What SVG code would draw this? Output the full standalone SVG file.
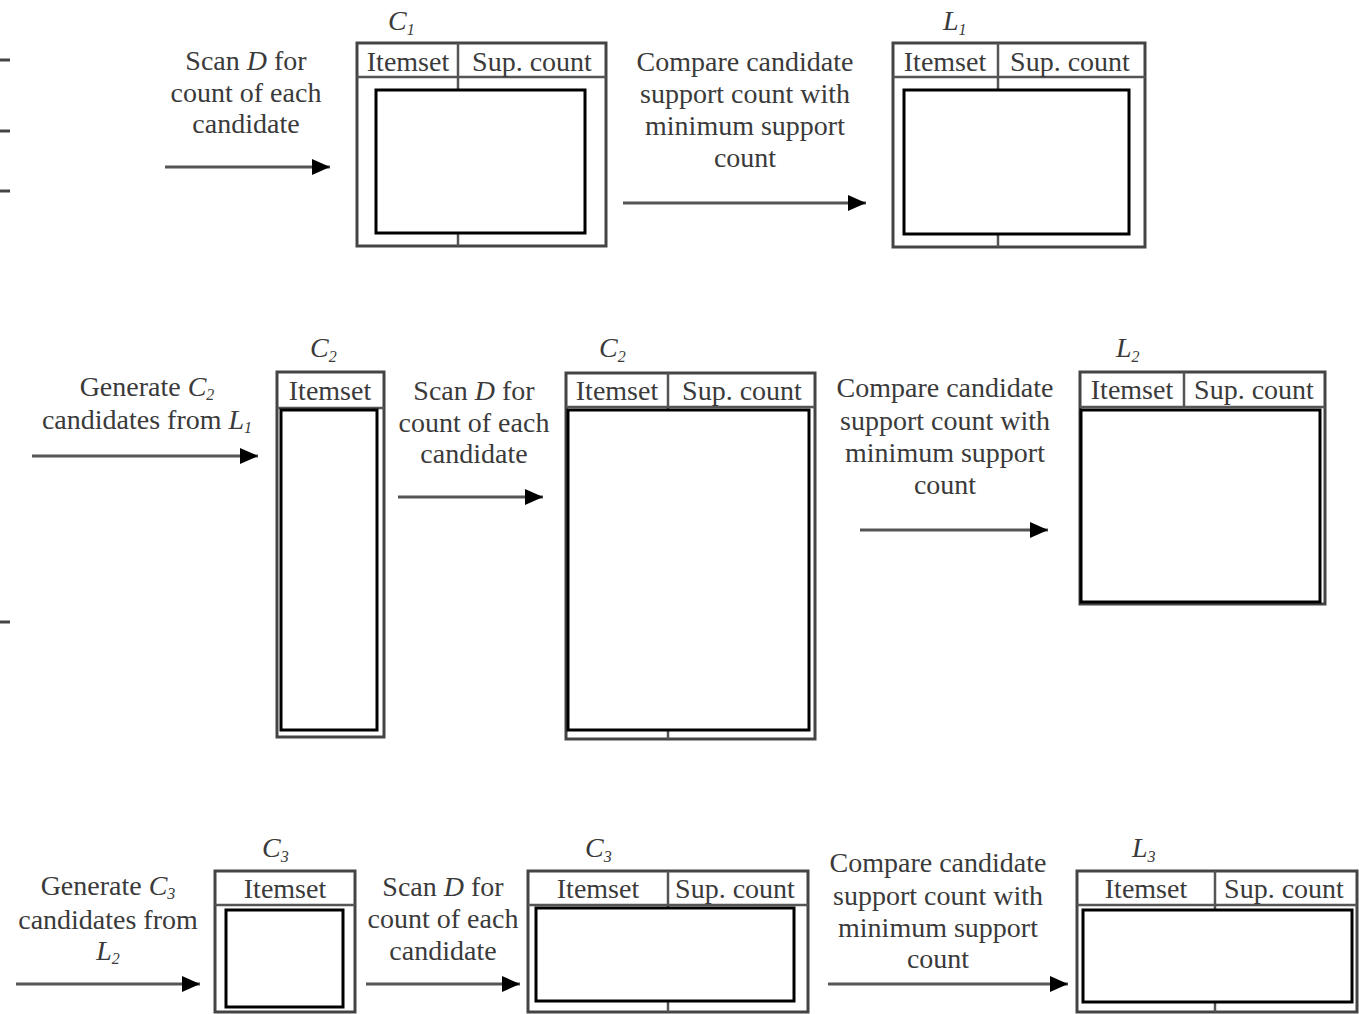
<svg xmlns="http://www.w3.org/2000/svg" width="1359" height="1014" viewBox="0 0 1359 1014">
<style>
.t{font-family:"Liberation Serif","Times New Roman",serif;font-size:28px;fill:#3a3a3a;text-anchor:middle}
.lab{font-family:"Liberation Serif","Times New Roman",serif;font-size:28px;font-style:italic;fill:#3a3a3a}
.it{font-style:italic}
.sub{font-size:16px;font-style:italic}
.frame{fill:#fff;stroke:#444;stroke-width:3}
.sep{stroke:#555;stroke-width:2.5}
.inner{fill:#fff;stroke:#000;stroke-width:3}
.arr{stroke:#555;stroke-width:3;fill:none;marker-end:url(#ah)}
.mark{stroke:#444;stroke-width:3}
</style>
<defs>
<marker id="ah" markerUnits="userSpaceOnUse" markerWidth="20" markerHeight="16" refX="18" refY="8" orient="auto">
<path d="M0,0 L18,8 L0,16 Z" fill="#000"/>
</marker>
</defs>
<rect width="1359" height="1014" fill="#fff"/>

<g id="edge-marks">
<line class="mark" x1="0" y1="60" x2="10" y2="60"/>
<line class="mark" x1="0" y1="131" x2="10" y2="131"/>
<line class="mark" x1="0" y1="191" x2="10" y2="191"/>
<line class="mark" x1="0" y1="622" x2="10" y2="622"/>
</g>

<g id="connectors">
<line class="arr" x1="165" y1="167" x2="330" y2="167"/>
<line class="arr" x1="623" y1="203" x2="866" y2="203"/>
<line class="arr" x1="32" y1="456" x2="258" y2="456"/>
<line class="arr" x1="398" y1="497" x2="543" y2="497"/>
<line class="arr" x1="860" y1="530" x2="1048" y2="530"/>
<line class="arr" x1="16" y1="984" x2="200" y2="984"/>
<line class="arr" x1="366" y1="984" x2="520" y2="984"/>
<line class="arr" x1="828" y1="984" x2="1068" y2="984"/>
</g>

<g id="labels">
<text class="t" x="246" y="70">Scan <tspan class="it">D</tspan> for</text>
<text class="t" x="246" y="102">count of each</text>
<text class="t" x="246" y="133">candidate</text>

<text class="t" x="745" y="71">Compare candidate</text>
<text class="t" x="745" y="103">support count with</text>
<text class="t" x="745" y="135">minimum support</text>
<text class="t" x="745" y="167">count</text>

<text class="t" x="147" y="396">Generate <tspan class="it">C</tspan><tspan class="sub" dy="4">2</tspan></text>
<text class="t" x="147" y="429">candidates from <tspan class="it">L</tspan><tspan class="sub" dy="4">1</tspan></text>

<text class="t" x="474" y="400">Scan <tspan class="it">D</tspan> for</text>
<text class="t" x="474" y="432">count of each</text>
<text class="t" x="474" y="463">candidate</text>

<text class="t" x="945" y="397">Compare candidate</text>
<text class="t" x="945" y="430">support count with</text>
<text class="t" x="945" y="462">minimum support</text>
<text class="t" x="945" y="494">count</text>

<text class="t" x="108" y="895">Generate <tspan class="it">C</tspan><tspan class="sub" dy="4">3</tspan></text>
<text class="t" x="108" y="929">candidates from</text>
<text class="t" x="108" y="960"><tspan class="it">L</tspan><tspan class="sub" dy="4">2</tspan></text>

<text class="t" x="443" y="896">Scan <tspan class="it">D</tspan> for</text>
<text class="t" x="443" y="928">count of each</text>
<text class="t" x="443" y="960">candidate</text>

<text class="t" x="938" y="872">Compare candidate</text>
<text class="t" x="938" y="905">support count with</text>
<text class="t" x="938" y="937">minimum support</text>
<text class="t" x="938" y="968">count</text>
</g>

<g id="C1-table">
<text class="lab" x="388" y="30">C<tspan class="sub" dy="5">1</tspan></text>
<rect class="frame" x="357" y="43" width="249" height="203"/>
<line class="sep" x1="357" y1="77" x2="606" y2="77"/>
<line class="sep" x1="458" y1="43" x2="458" y2="246"/>
<text class="t" x="408" y="71">Itemset</text>
<text class="t" x="532" y="71">Sup. count</text>
<rect class="inner" x="376" y="90" width="209" height="143"/>
</g>

<g id="L1-table">
<text class="lab" x="943" y="30">L<tspan class="sub" dy="5">1</tspan></text>
<rect class="frame" x="893" y="43" width="252" height="204"/>
<line class="sep" x1="893" y1="77" x2="1145" y2="77"/>
<line class="sep" x1="998" y1="43" x2="998" y2="247"/>
<text class="t" x="945" y="71">Itemset</text>
<text class="t" x="1070" y="71">Sup. count</text>
<rect class="inner" x="904" y="90" width="225" height="144"/>
</g>

<g id="C2-itemset-table">
<text class="lab" x="310" y="357">C<tspan class="sub" dy="5">2</tspan></text>
<rect class="frame" x="277" y="372" width="107" height="365"/>
<line class="sep" x1="277" y1="408" x2="384" y2="408"/>
<text class="t" x="330" y="400">Itemset</text>
<rect class="inner" x="281" y="410" width="96" height="320"/>
</g>

<g id="C2-count-table">
<text class="lab" x="599" y="357">C<tspan class="sub" dy="5">2</tspan></text>
<rect class="frame" x="566" y="373" width="249" height="366"/>
<line class="sep" x1="566" y1="407" x2="815" y2="407"/>
<line class="sep" x1="668" y1="373" x2="668" y2="739"/>
<text class="t" x="617" y="400">Itemset</text>
<text class="t" x="742" y="400">Sup. count</text>
<rect class="inner" x="568" y="410" width="241" height="320"/>
</g>

<g id="L2-table">
<text class="lab" x="1116" y="357">L<tspan class="sub" dy="5">2</tspan></text>
<rect class="frame" x="1080" y="372" width="245" height="232"/>
<line class="sep" x1="1080" y1="407" x2="1325" y2="407"/>
<line class="sep" x1="1184" y1="372" x2="1184" y2="407"/>
<text class="t" x="1132" y="399">Itemset</text>
<text class="t" x="1254" y="399">Sup. count</text>
<rect class="inner" x="1081" y="410" width="239" height="192"/>
</g>

<g id="C3-itemset-table">
<text class="lab" x="262" y="857">C<tspan class="sub" dy="5">3</tspan></text>
<rect class="frame" x="215" y="871" width="140" height="141"/>
<line class="sep" x1="215" y1="905" x2="355" y2="905"/>
<text class="t" x="285" y="898">Itemset</text>
<rect class="inner" x="226" y="910" width="117" height="97"/>
</g>

<g id="C3-count-table">
<text class="lab" x="585" y="857">C<tspan class="sub" dy="5">3</tspan></text>
<rect class="frame" x="528" y="871" width="280" height="141"/>
<line class="sep" x1="528" y1="905" x2="808" y2="905"/>
<line class="sep" x1="668" y1="871" x2="668" y2="1012"/>
<text class="t" x="598" y="898">Itemset</text>
<text class="t" x="735" y="898">Sup. count</text>
<rect class="inner" x="536" y="908" width="258" height="93"/>
</g>

<g id="L3-table">
<text class="lab" x="1132" y="857">L<tspan class="sub" dy="5">3</tspan></text>
<rect class="frame" x="1077" y="871" width="280" height="141"/>
<line class="sep" x1="1077" y1="905" x2="1357" y2="905"/>
<line class="sep" x1="1215" y1="871" x2="1215" y2="1012"/>
<text class="t" x="1146" y="898">Itemset</text>
<text class="t" x="1284" y="898">Sup. count</text>
<rect class="inner" x="1083" y="910" width="269" height="92"/>
</g>
</svg>
